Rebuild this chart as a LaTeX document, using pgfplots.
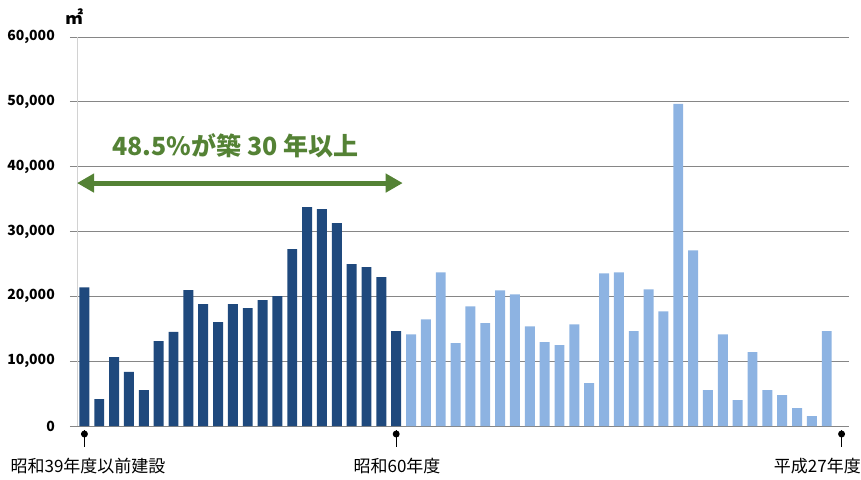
\documentclass[border=0pt]{standalone}
\usepackage{fontspec}
\setmainfont{Noto Sans CJK JP}
\usepackage{pgfplots}
\pgfplotsset{compat=1.18}
\usetikzlibrary{arrows.meta}
\definecolor{darkbar}{RGB}{31,73,125}
\definecolor{lightbar}{RGB}{141,179,226}
\definecolor{annot}{RGB}{84,130,53}
\definecolor{gridc}{RGB}{134,134,134}
\definecolor{axisc}{RGB}{210,210,210}

\begin{document}
\begin{tikzpicture}[x=1pt,y=1pt]
\useasboundingbox (0,0) rectangle (861,479);
\begin{axis}[
    at={(77pt,53pt)}, anchor=south west,
    scale only axis,
    width=772pt, height=389pt,
    xmin=-0.5, xmax=51.5,
    ymin=0, ymax=60000,
    ybar, bar width=0.67, bar shift=0pt,
    axis x line*=bottom, axis y line*=left,
    x axis line style={gridc, line width=0.8pt},
    y axis line style={axisc, line width=0.8pt},
    xtick=\empty,
    ytick={0,10000,...,60000},
    scaled y ticks=false,
    /pgf/number format/.cd, fixed, 1000 sep={,}, assume math mode=true, /pgfplots/.cd,
    yticklabel style={font=\fontsize{14}{14}\selectfont\bfseries, anchor=east, inner sep=0pt, xshift=-15pt},
    tick align=outside, major tick length=7pt,
    ytick style={gridc, line width=0.8pt},
    ymajorgrids, grid style={gridc, line width=0.8pt},
    clip=false,
]
\addplot[fill=darkbar, draw=none] coordinates {
    (0,21400) (1,4160) (2,10640) (3,8330) (4,5550) (5,13100) (6,14500)
    (7,20970) (8,18810) (9,16040) (10,18810) (11,18200) (12,19430)
    (13,20050) (14,27290) (15,33770) (16,33460) (17,31300) (18,24980)
    (19,24520) (20,22980) (21,14650)
};
\addplot[fill=lightbar, draw=none] coordinates {
    (22,14150) (23,16460) (24,23690) (25,12770) (26,18460) (27,15850)
    (28,20920) (29,20310) (30,15380) (31,12920) (32,12460) (33,15690)
    (34,6620) (35,23540) (36,23690) (37,14620) (38,21080) (39,17690)
    (40,49690) (41,27080) (42,5540) (43,14150) (44,4000) (45,11380)
    (46,5540) (47,4770) (48,2770) (49,1540) (50,14620)
};
\draw[annot, line width=5pt, {Triangle[length=17pt,width=18pt]}-{Triangle[length=17pt,width=18pt]}]
    (axis cs:-0.5,37470) -- (axis cs:21.44,37470);
\node[font=\fontsize{25}{25}\selectfont\bfseries, text=annot] at (axis cs:10.17,43180) {48.5\%が築 30 年以上};
% pins on the x axis
\draw[black, line width=1.2pt] ([yshift=-4pt]axis cs:0,0) -- ([yshift=-21pt]axis cs:0,0);
\draw[black, line width=1.2pt] ([yshift=-4pt]axis cs:21,0) -- ([yshift=-21pt]axis cs:21,0);
\draw[black, line width=1.2pt] ([yshift=-4pt]axis cs:51,0) -- ([yshift=-21pt]axis cs:51,0);
\fill[black] ([yshift=-8pt]axis cs:0,0) circle (3.5pt);
\fill[black] ([yshift=-8pt]axis cs:21,0) circle (3.5pt);
\fill[black] ([yshift=-8pt]axis cs:51,0) circle (3.5pt);
\end{axis}
\node[font=\fontsize{18}{18}\selectfont\bfseries] at (74,462) {㎡};
\node[font=\fontsize{17}{17}\selectfont] at (88,13) {昭和39年度以前建設};
\node[font=\fontsize{17}{17}\selectfont] at (397,13) {昭和60年度};
\node[font=\fontsize{17}{17}\selectfont, anchor=east, inner sep=0pt] at (861,13) {平成27年度};
\end{tikzpicture}
\end{document}
